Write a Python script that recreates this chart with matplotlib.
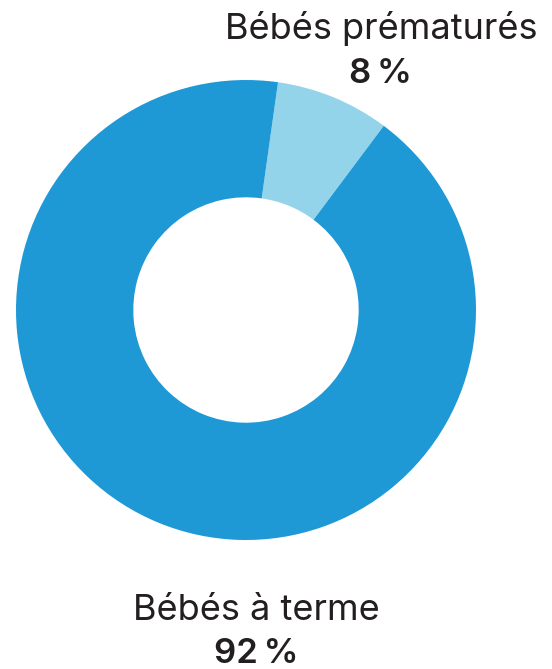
import matplotlib
matplotlib.use("Agg")
import matplotlib.pyplot as plt

labels = ["Bébés prématurés", "Bébés à terme"]
values = [8, 92]
pct_labels = ["8\u202f%", "92\u202f%"]
colors = ["#93D4EB", "#1E99D6"]

W, H = 552, 669
fig = plt.figure(figsize=(W / 100, H / 100), dpi=100)
fig.patch.set_facecolor("white")

# donut axes: center ~ (246, 310) px, radius ~230 px
ax = fig.add_axes([16 / W, (H - 540) / H, 460 / W, 460 / H])
ax.pie(values, colors=colors, startangle=82, counterclock=False,
       wedgeprops=dict(width=0.51, edgecolor="none"), radius=1.0)
ax.set_xlim(-1, 1)
ax.set_ylim(-1, 1)
ax.set_aspect("equal")
ax.axis("off")

txt_color = "#231F20"
fam = ["Inter", "DejaVu Sans"]

def px(x, y):
    return x / W, 1 - y / H

fig.text(*px(381, 39), labels[0], ha="center", va="baseline",
         fontsize=26, color=txt_color, family=fam)
fig.text(*px(380, 83), pct_labels[0], ha="center", va="baseline",
         fontsize=25, fontweight="semibold", color=txt_color, family=fam)
fig.text(*px(256, 620), labels[1], ha="center", va="baseline",
         fontsize=26, color=txt_color, family=fam)
fig.text(*px(256, 663), pct_labels[1], ha="center", va="baseline",
         fontsize=25, fontweight="semibold", color=txt_color, family=fam)

fig.savefig("out.png", dpi=100, facecolor="white")
